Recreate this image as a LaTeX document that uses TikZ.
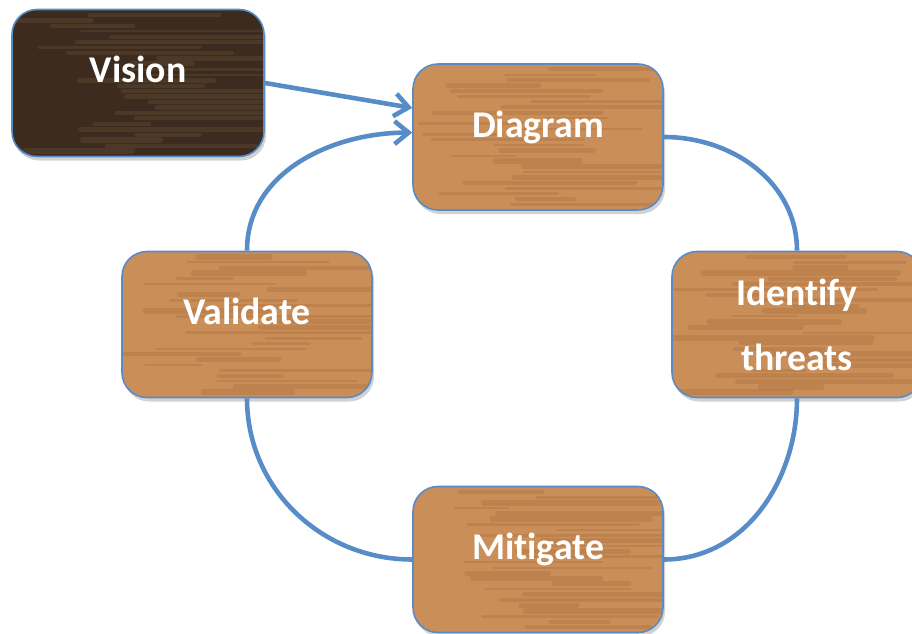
\documentclass[tikz,border=0pt]{standalone}
\usepackage{fontspec}
\setmainfont[Ligatures={NoCommon,NoRequired,NoContextual}]{Carlito}
\usetikzlibrary{arrows.meta,shadows,calc}
\definecolor{linkblue}{RGB}{88,140,200}
\definecolor{oak}{RGB}{202,142,88}
\definecolor{oakdark}{RGB}{165,105,55}
\definecolor{oaklight}{RGB}{226,174,120}
\definecolor{walnut}{RGB}{60,43,30}
\definecolor{walnutlight}{RGB}{110,88,60}
\tikzset{
	grain/.style 2 args={path picture={
		\pgfmathsetseed{#2}
		\foreach \k in {1,...,26}{
			\pgfmathsetmacro{\gf}{\k/27}
			\pgfmathsetmacro{\ga}{rnd*3}
			\pgfmathsetmacro{\gb}{1+rnd*3.5}
			\pgfmathsetmacro{\gw}{1+rnd*2.5}
			\draw[#1,line width=\gw pt,opacity=0.3,line cap=round]
				($(path picture bounding box.south west)!\gf!(path picture bounding box.north west)$)
				++(\ga,0) -- ++(\gb,0);
		}}},
	stage/.style={rectangle,rounded corners=0.5cm,draw=linkblue,line width=0.9pt,
		minimum width=5cm,minimum height=2.92cm,fill=oak,text=white,
		font=\fontsize{21.5}{37}\selectfont\bfseries,
		drop shadow={shadow xshift=0.04cm,shadow yshift=-0.08cm,opacity=0.35}},
	oneline/.style={text height=12pt,text depth=12pt},
	link/.style={draw=linkblue,line width=2.6pt},
	tip/.style={-{Straight Barb[length=8pt,width=13pt]}}
}
\begin{document}
\begin{tikzpicture}
	\path[use as bounding box,fill=white] (0,0) rectangle (18.24,12.66);
	\node[stage,oneline,fill=walnut,grain={walnutlight}{3},minimum width=5.04cm,minimum height=2.94cm] (vision) at (2.76,11.0) {Vision};
	\node[stage,oneline,grain={oakdark}{11}] (diagram) at (10.76,9.92) {Diagram};
	\node[stage,align=center,grain={oakdark}{23}] (identify) at (15.94,6.17) {Identify\\threats};
	\node[stage,oneline,grain={oakdark}{37}] (mitigate) at (10.76,1.47) {Mitigate};
	\node[stage,oneline,grain={oakdark}{41}] (validate) at (4.94,6.17) {Validate};
	\draw[link,tip] (vision.east) -- (diagram.167);
	\draw[link] (diagram.east) to[out=0,in=90] (identify.north);
	\draw[link] (identify.south) to[out=-90,in=0] (mitigate.east);
	\draw[link] (mitigate.west) to[out=180,in=-90] (validate.south);
	\draw[link,tip] (validate.north) to[out=90,in=180] (diagram.178);
\end{tikzpicture}
\end{document}
